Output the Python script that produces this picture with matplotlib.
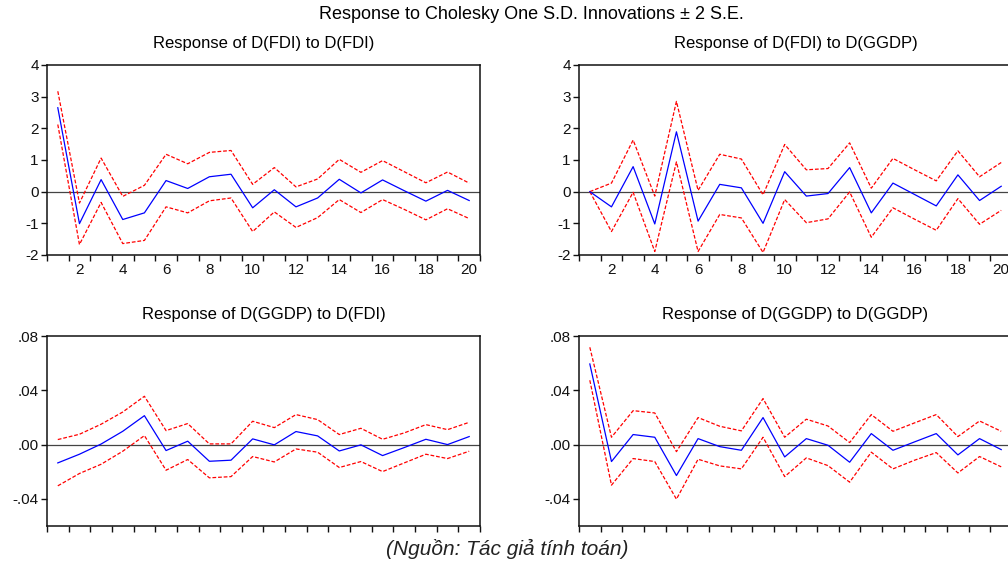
import numpy as np
import matplotlib.pyplot as plt

plt.rcParams['font.family'] = ['Liberation Sans', 'DejaVu Sans']

periods = np.arange(1, 21)

# Response of D(FDI) to D(FDI)
fdi_fdi = [2.65, -1.01, 0.38, -0.88, -0.67, 0.35, 0.10, 0.47, 0.55, -0.51,
           0.06, -0.48, -0.20, 0.39, -0.04, 0.37, 0.03, -0.30, 0.04, -0.28]
fdi_fdi_hi = [3.17, -0.36, 1.06, -0.15, 0.20, 1.18, 0.88, 1.24, 1.30, 0.23,
              0.76, 0.15, 0.40, 1.02, 0.61, 0.98, 0.63, 0.28, 0.62, 0.27]
fdi_fdi_lo = [2.12, -1.67, -0.34, -1.64, -1.54, -0.48, -0.67, -0.29, -0.20, -1.26,
              -0.64, -1.13, -0.82, -0.25, -0.66, -0.25, -0.56, -0.89, -0.54, -0.85]

# Response of D(FDI) to D(GGDP)
fdi_ggdp = [0.0, -0.48, 0.79, -1.02, 1.89, -0.93, 0.23, 0.12, -1.00, 0.63,
            -0.14, -0.06, 0.76, -0.67, 0.27, -0.09, -0.45, 0.53, -0.28, 0.17]
fdi_ggdp_hi = [0.0, 0.27, 1.63, -0.14, 2.85, 0.04, 1.18, 1.03, -0.10, 1.49,
               0.69, 0.73, 1.54, 0.11, 1.05, 0.69, 0.34, 1.29, 0.47, 0.92]
fdi_ggdp_lo = [0.0, -1.26, -0.02, -1.89, 0.94, -1.89, -0.72, -0.83, -1.92, -0.25,
               -0.98, -0.86, -0.01, -1.44, -0.51, -0.87, -1.22, -0.22, -1.03, -0.59]

# Response of D(GGDP) to D(FDI)
ggdp_fdi = [-0.0135, -0.0071, 0.0004, 0.0098, 0.0213, -0.0044, 0.0025, -0.0123, -0.0115, 0.0042,
            -0.0002, 0.0096, 0.0064, -0.0047, -0.0002, -0.0081, -0.0022, 0.0039, 0.0000, 0.0059]
ggdp_fdi_hi = [0.0037, 0.0076, 0.0150, 0.0240, 0.0356, 0.0103, 0.0155, 0.0005, 0.0005, 0.0172,
               0.0125, 0.0221, 0.0184, 0.0074, 0.0120, 0.0039, 0.0086, 0.0147, 0.0110, 0.0164]
ggdp_fdi_lo = [-0.0304, -0.0213, -0.0145, -0.0049, 0.0066, -0.0189, -0.0110, -0.0245, -0.0236, -0.0088,
               -0.0128, -0.0032, -0.0056, -0.0169, -0.0125, -0.0199, -0.0135, -0.0071, -0.0103, -0.0049]

# Response of D(GGDP) to D(GGDP)
ggdp_ggdp = [0.0594, -0.0125, 0.0074, 0.0054, -0.0228, 0.0044, -0.0015, -0.0042, 0.0199, -0.0091,
             0.0044, -0.0005, -0.0130, 0.0081, -0.0042, 0.0020, 0.0081, -0.0076, 0.0044, -0.0037]
ggdp_ggdp_hi = [0.0717, 0.0054, 0.0250, 0.0233, -0.0052, 0.0199, 0.0135, 0.0101, 0.0339, 0.0054,
                0.0187, 0.0137, 0.0015, 0.0221, 0.0098, 0.0160, 0.0221, 0.0059, 0.0174, 0.0098]
ggdp_ggdp_lo = [0.0474, -0.0299, -0.0103, -0.0125, -0.0402, -0.0108, -0.0157, -0.0179, 0.0054, -0.0236,
                -0.0098, -0.0155, -0.0277, -0.0056, -0.0179, -0.0115, -0.0059, -0.0209, -0.0088, -0.0164]

panels = [
    ("Response of D(FDI) to D(FDI)", fdi_fdi, fdi_fdi_hi, fdi_fdi_lo),
    ("Response of D(FDI) to D(GGDP)", fdi_ggdp, fdi_ggdp_hi, fdi_ggdp_lo),
    ("Response of D(GGDP) to D(FDI)", ggdp_fdi, ggdp_fdi_hi, ggdp_fdi_lo),
    ("Response of D(GGDP) to D(GGDP)", ggdp_ggdp, ggdp_ggdp_hi, ggdp_ggdp_lo),
]

fig = plt.figure(figsize=(10.08, 5.65), dpi=100)
lefts = [0.0466, 0.5744]
bottoms = [0.5487, 0.069]
w, h = 0.4296, 0.3363

for k, (title, mid, hi, lo) in enumerate(panels):
    row, col = divmod(k, 2)
    ax = fig.add_axes([lefts[col], bottoms[row], w, h])
    ax.axhline(0, color='#444444', lw=0.9)
    ax.plot(periods, hi, color='red', lw=0.9, ls=(0, (3, 1.5)))
    ax.plot(periods, lo, color='red', lw=0.9, ls=(0, (3, 1.5)))
    ax.plot(periods, mid, color='blue', lw=0.9)
    ax.set_xlim(0.5, 20.5)
    ax.set_xticks(np.arange(0.5, 21, 1))
    ax.set_xticklabels([])
    if row == 0:
        ax.set_ylim(-2, 4)
        ax.set_yticks([-2, -1, 0, 1, 2, 3, 4])
        ax.set_yticklabels(['-2', '-1', '0', '1', '2', '3', '4'])
        for p in range(2, 21, 2):
            ax.text(p, -0.04, str(p), transform=ax.get_xaxis_transform(),
                    ha='center', va='top', fontsize=11, color='#111111')
    else:
        ax.set_ylim(-0.06, 0.08)
        ax.set_yticks([-0.04, 0.0, 0.04, 0.08])
        ax.set_yticklabels(['-.04', '.00', '.04', '.08'])
    ax.tick_params(axis='both', direction='out', length=4, width=1,
                   labelsize=11, colors='#111111', pad=2)
    for s in ax.spines.values():
        s.set_linewidth(1.1)
        s.set_color('#111111')
    ax.set_title(title, fontsize=12, pad=12)

fig.text(0.527, 0.975, "Response to Cholesky One S.D. Innovations \u00b1 2 S.E.",
         ha='center', va='center', fontsize=13)
fig.text(0.503, 0.028, "(Nguồn: Tác giả tính toán)", ha='center', va='center',
         fontsize=15, style='italic', color='#222222')

fig.savefig('out.png', dpi=100)
